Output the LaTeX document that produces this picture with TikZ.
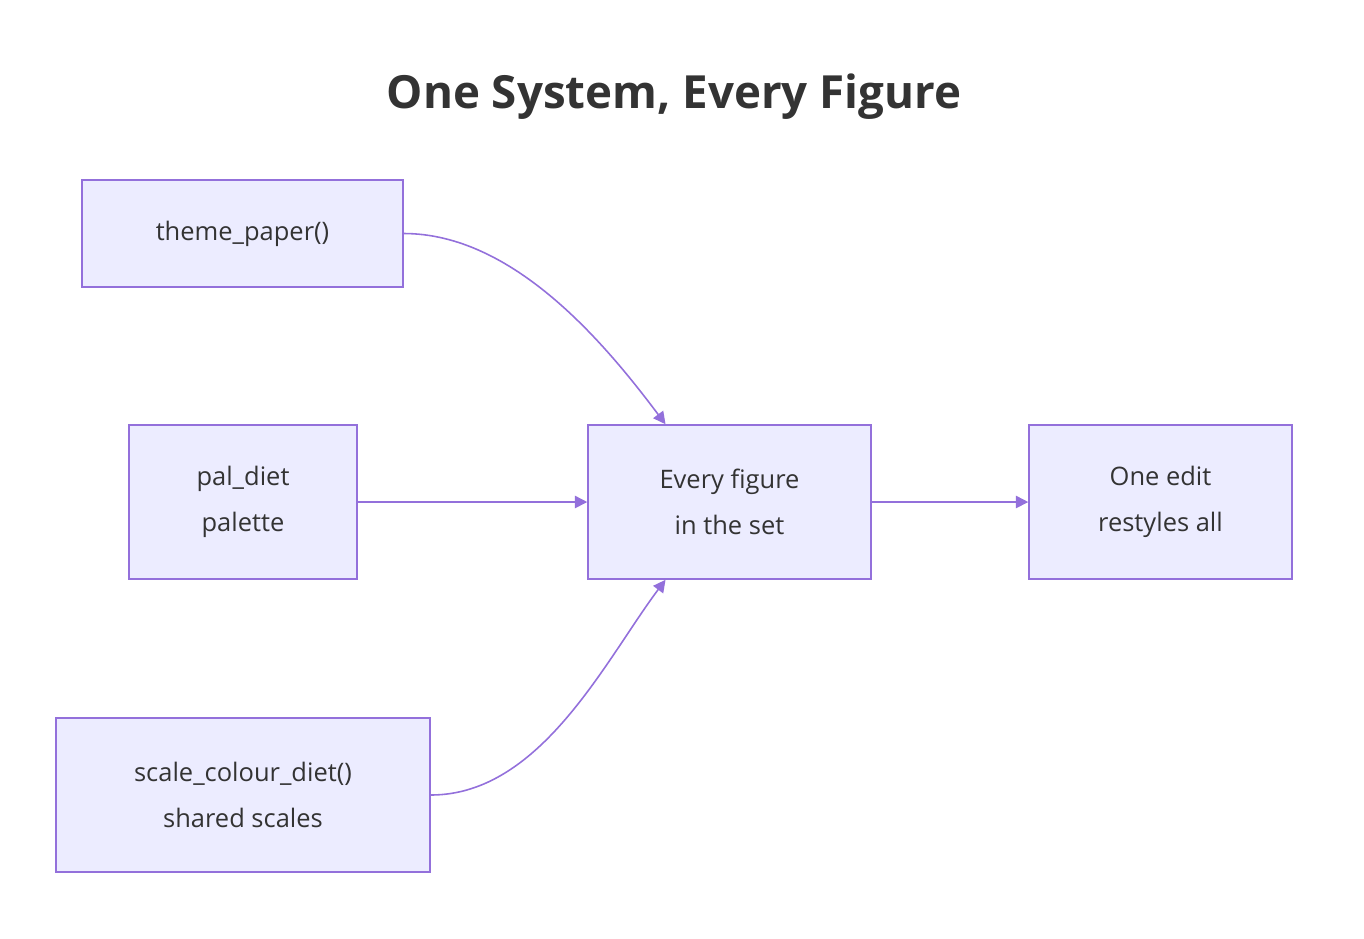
\documentclass[tikz,border=0pt]{standalone}
\usepackage{fontspec}
\setmainfont{Open Sans}
\usetikzlibrary{arrows.meta,positioning}
\definecolor{boxfill}{HTML}{ECECFF}
\definecolor{boxline}{HTML}{9370DB}
\definecolor{ink}{HTML}{333333}
\tikzset{
  block/.style={rectangle, draw=boxline, fill=boxfill, line width=0.9pt,
    text=ink, align=center, font=\fontsize{14.5}{26}\selectfont,
    minimum height=3.08cm},
  line/.style={draw=boxline, line width=0.9pt, -{Triangle[length=7pt,width=7pt]}}
}
\begin{document}
\begin{tikzpicture}[x=0.02cm, y=-0.02cm]
  \useasboundingbox (0,0) rectangle (1364,938);
    % Place nodes
    \node [text=ink, font=\fontsize{26}{30}\selectfont\bfseries] (title) at (674,97) {One System, Every Figure};
    \node [block, minimum width=6.42cm, minimum height=2.14cm] (theme) at (242.5,233.5) {theme\_paper()};
    \node [block, minimum width=4.56cm] (pal) at (243,502) {pal\_diet\\palette};
    \node [block, minimum width=7.48cm] (scale) at (243,795) {scale\_colour\_diet()\\shared scales};
    \node [block, minimum width=5.66cm] (every) at (729.5,502) {Every figure\\in the set};
    \node [block, minimum width=5.26cm] (restyle) at (1160.5,502) {One edit\\restyles all};

    % Draw edges
    \path [line] (theme.east) .. controls +(110,0) and +(-60,-80) .. ([xshift=-1.28cm]every.north);
    \path [line] (pal) -- (every);
    \path [line] (scale.east) .. controls +(110,0) and +(-60,80) .. ([xshift=-1.28cm]every.south);
    \path [line] (every) -- (restyle);
\end{tikzpicture}
\end{document}
